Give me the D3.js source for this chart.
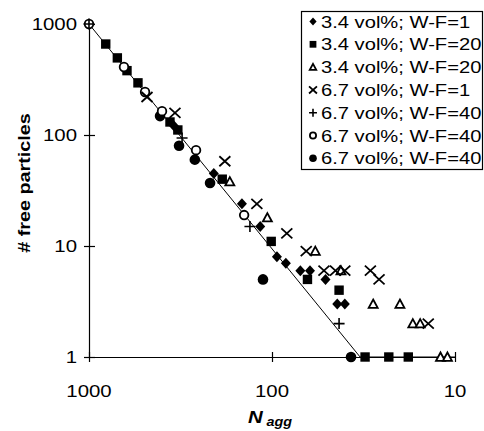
<!DOCTYPE html>
<html>
<head>
<meta charset="utf-8">
<script src="https://cdn.jsdelivr.net/npm/d3@7"></script>
<style>
  html, body { margin: 0; padding: 0; background: #fff; }
  svg { display: block; }
  text { font-family: "Liberation Sans", Arial, sans-serif; fill: #000; }
</style>
</head>
<body>
<svg id="chart" width="484" height="431"></svg>
<script>
// Series: [N_agg, # free particles]
const s34wf1 = [[344,121],[208,45],[146,24],[116,15],[94,8],[84,7],[70,6],[62,6],[51,5],[44,3],[40,3]];
const s34wf20sq = [[810,660],[700,495],[620,380],[540,295],[361,131],[327,111],[187,40],[101,11],[64,5],[43,4],[31,1],[23,1],[18,1]];
const s34wf20tri = [[170,38],[106,18],[58,9],[42,6],[28,3],[20,3],[17,2],[15.5,2],[12,1],[11,1]];
const s67wf1 = [[482,220],[339,158],[181,58],[121,24],[83,13],[65,9],[52,6],[45,6],[40,6],[29,6],[26,5],[14,2]];
const s67wf40plus = [[1000,1000],[310,94],[132,15],[43,2]];
const s67wf40open = [[1000,1000],[644,410],[494,244],[399,164],[260,73],[142,19]];
const s67wf40fill = [[409,148],[322,80],[264,60],[218,37],[112,5],[37,1]];

// Guide line through the data, then flat along the bottom
const guideLine = [[1000,1000],[33,1],[10,1]];

const xTicks = [1000, 100, 10];
const yTicks = [1, 10, 100, 1000];

const legendLabels = [
  "3.4 vol%; W-F=1",
  "3.4 vol%; W-F=20",
  "3.4 vol%; W-F=20",
  "6.7 vol%; W-F=1",
  "6.7 vol%; W-F=40",
  "6.7 vol%; W-F=40",
  "6.7 vol%; W-F=40"
];

(function () {
const svg = d3.select("#chart");
const pL = 89, pR = 455, pT = 24, pB = 357;
const SX = 1.2; // horizontal text stretch

const x = d3.scaleLog().domain([1000, 10]).range([pL, pR]);
const y = d3.scaleLog().domain([1, 1000]).range([pB, pT]);

// Axes
const yAxis = svg.append("g").attr("transform", `translate(${pL},0)`)
  .call(d3.axisLeft(y).tickValues(yTicks).tickFormat("").tickSizeOuter(0));
yAxis.select(".domain").attr("stroke", "#000").attr("stroke-width", 1.2);
yAxis.selectAll(".tick line").attr("x1", -5).attr("x2", 6).attr("stroke", "#000").attr("stroke-width", 1.2);

const xAxis = svg.append("g").attr("transform", `translate(0,${pB})`)
  .call(d3.axisBottom(x).tickValues(xTicks).tickFormat("").tickSizeOuter(0));
xAxis.select(".domain").attr("stroke", "#000").attr("stroke-width", 1.2);
xAxis.selectAll(".tick line").attr("y1", -5).attr("y2", 5).attr("stroke", "#000").attr("stroke-width", 1.2);

function stretchedText(g, tx, ty, str, anchor, size, weight) {
  return g.append("text")
    .attr("transform", `translate(${tx},${ty}) scale(${SX},1)`)
    .attr("text-anchor", anchor)
    .attr("font-size", size)
    .attr("font-weight", weight || "normal")
    .text(str);
}

// Tick labels
yTicks.forEach(v => stretchedText(svg, 77, y(v) + 6, d3.format("d")(v), "end", 17));
xTicks.forEach(v => stretchedText(svg, x(v), 397, d3.format("d")(v), "middle", 17));

// Axis titles
svg.append("text")
  .attr("transform", `translate(30,183) rotate(-90) scale(${SX},1)`)
  .attr("text-anchor", "middle")
  .attr("font-size", 16.5)
  .attr("font-weight", "bold")
  .text("# free particles");

const xt = svg.append("text")
  .attr("transform", `translate(270,423) scale(${SX},1)`)
  .attr("text-anchor", "middle")
  .attr("font-weight", "bold")
  .attr("font-style", "italic");
xt.append("tspan").attr("font-size", 17).text("N");
xt.append("tspan").attr("font-size", 12).attr("dx", 3).attr("dy", 3).text("agg");

// Guide line
svg.append("path")
  .datum(guideLine)
  .attr("fill", "none")
  .attr("stroke", "#000")
  .attr("stroke-width", 1)
  .attr("d", d3.line().x(d => x(d[0])).y(d => y(d[1])));

// Marker drawers (k = size factor)
const markers = {
  diamond: (g, cx, cy, k) => g.append("path")
    .attr("d", `M${cx},${cy-5.5*k}L${cx+5*k},${cy}L${cx},${cy+5.5*k}L${cx-5*k},${cy}Z`)
    .attr("fill", "#000"),
  square: (g, cx, cy, k) => g.append("rect")
    .attr("x", cx - 4.7*k).attr("y", cy - 4.7*k).attr("width", 9.4*k).attr("height", 9.4*k)
    .attr("fill", "#000"),
  triangle: (g, cx, cy, k) => g.append("path")
    .attr("d", `M${cx},${cy-4.5*k}L${cx+4.5*k},${cy+3.8*k}L${cx-4.5*k},${cy+3.8*k}Z`)
    .attr("fill", "#fff").attr("stroke", "#000").attr("stroke-width", 1.8),
  cross: (g, cx, cy, k) => g.append("path")
    .attr("d", `M${cx-5.5*k},${cy-5*k}L${cx+5.5*k},${cy+5*k}M${cx+5.5*k},${cy-5*k}L${cx-5.5*k},${cy+5*k}`)
    .attr("fill", "none").attr("stroke", "#000").attr("stroke-width", 1.8),
  plus: (g, cx, cy, k) => g.append("path")
    .attr("d", `M${cx-5.5*k},${cy}L${cx+5.5*k},${cy}M${cx},${cy-5.5*k}L${cx},${cy+5.5*k}`)
    .attr("fill", "none").attr("stroke", "#000").attr("stroke-width", 1.6),
  open: (g, cx, cy, k) => g.append("circle")
    .attr("cx", cx).attr("cy", cy).attr("r", 4.3*k)
    .attr("fill", "#fff").attr("stroke", "#000").attr("stroke-width", 1.8),
  filled: (g, cx, cy, k) => g.append("circle")
    .attr("cx", cx).attr("cy", cy).attr("r", 5.3*k)
    .attr("fill", "#000")
};

const series = [
  { data: s34wf1, shape: "diamond" },
  { data: s34wf20sq, shape: "square" },
  { data: s34wf20tri, shape: "triangle" },
  { data: s67wf1, shape: "cross" },
  { data: s67wf40plus, shape: "plus" },
  { data: s67wf40open, shape: "open" },
  { data: s67wf40fill, shape: "filled" }
];

// Draw points; filled markers first so open markers stay visible on top
const drawOrder = [6, 1, 0, 2, 5, 3, 4];
const pts = svg.append("g");
drawOrder.forEach(i => {
  const s = series[i];
  s.data.forEach(d => markers[s.shape](pts, x(d[0]), y(d[1]), 1));
});

// Legend
const lg = svg.append("g");
lg.append("rect")
  .attr("x", 301.5).attr("y", 11.5).attr("width", 181).attr("height", 158)
  .attr("fill", "#fff").attr("stroke", "#000").attr("stroke-width", 1.2);
series.forEach((s, i) => {
  const cy = 21.5 + i * 22.8;
  markers[s.shape](lg, 313, cy, 0.72);
  stretchedText(lg, 321, cy + 6, legendLabels[i], "start", 16.8);
});
})();
</script>
</body>
</html>
